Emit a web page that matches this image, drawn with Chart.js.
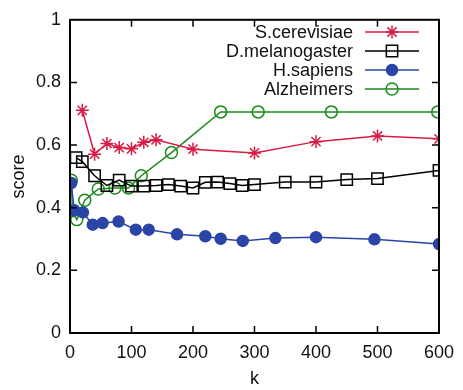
<!DOCTYPE html>
<html>
<head>
<meta charset="utf-8">
<script src="https://cdn.jsdelivr.net/npm/chart.js@4.4.0/dist/chart.umd.min.js"></script>
<style>
  html, body { margin: 0; padding: 0; background: #fff; }
  #wrap { width: 463px; height: 390px; }
</style>
</head>
<body>
<div id="wrap"><canvas id="chart" width="463" height="390"></canvas></div>
<script>
// values
const seriesNames = ['S.cerevisiae', 'D.melanogaster', 'H.sapiens', 'Alzheimers'];

const scerK = [20, 40, 60, 80, 100, 120, 140, 200, 300, 400, 500, 600];
const scerScore = [0.711, 0.571, 0.605, 0.592, 0.588, 0.609, 0.617, 0.587, 0.575, 0.611, 0.629, 0.620];

const dmelK = [10, 20, 40, 60, 80, 100, 120, 140, 160, 180, 200, 220, 240, 260, 280, 300, 350, 400, 450, 500, 600];
const dmelScore = [0.560, 0.547, 0.502, 0.471, 0.488, 0.469, 0.469, 0.471, 0.474, 0.469, 0.463, 0.481, 0.482, 0.477, 0.471, 0.474, 0.482, 0.482, 0.490, 0.493, 0.519];

const hsapK = [2, 7, 21, 37, 53, 79, 107, 128, 174, 220, 245, 281, 334, 400, 495, 600];
const hsapScore = [0.479, 0.392, 0.385, 0.346, 0.351, 0.356, 0.330, 0.330, 0.315, 0.309, 0.301, 0.294, 0.303, 0.306, 0.299, 0.284];

const alzK = [2, 4, 11, 24, 46, 73, 95, 116, 165, 245, 306, 425, 598];
const alzScore = [0.488, 0.390, 0.362, 0.424, 0.460, 0.463, 0.463, 0.502, 0.576, 0.706, 0.706, 0.706, 0.706];

const xTicks = [0, 100, 200, 300, 400, 500, 600];
const yTicks = [0, 0.2, 0.4, 0.6, 0.8, 1];

const FONT = 'Liberation Sans, Arial, sans-serif';

const toPts = (xs, ys) => xs.map((x, i) => ({ x: x, y: ys[i] }));

function series(label, xs, ys, color, style, radius, filled) {
    return {
        label: label,
        data: toPts(xs, ys),
        showLine: true,
        borderColor: color,
        backgroundColor: filled ? color : 'rgba(0,0,0,0)',
        borderWidth: 1.5,
        pointStyle: style,
        pointRadius: radius,
        pointHoverRadius: radius,
        pointBorderWidth: 1.5,
        pointBorderColor: color,
        pointBackgroundColor: filled ? color : 'rgba(0,0,0,0)'
    };
}

// inward ticks on all four sides + full frame
const frameTicks = {
    id: 'frameTicks',
    afterDatasetsDraw(chart) {
        const { ctx, chartArea: a, scales } = chart;
        const len = 7;
        ctx.save();
        ctx.strokeStyle = '#000';
        ctx.lineWidth = 1.5;
        ctx.beginPath();
        xTicks.forEach(v => {
            const px = scales.x.getPixelForValue(v);
            if (v === 0 || v === 600) return;
            ctx.moveTo(px, a.bottom); ctx.lineTo(px, a.bottom - len);
            ctx.moveTo(px, a.top); ctx.lineTo(px, a.top + len);
        });
        yTicks.forEach(v => {
            const py = scales.y.getPixelForValue(v);
            if (v === 0 || v === 1) return;
            ctx.moveTo(a.left, py); ctx.lineTo(a.left + len, py);
            ctx.moveTo(a.right, py); ctx.lineTo(a.right - len, py);
        });
        ctx.stroke();
        ctx.lineWidth = 2;
        ctx.strokeRect(a.left, a.top, a.right - a.left, a.bottom - a.top);
        ctx.restore();
    }
};

// gnuplot-like key: text on the left, line sample on the right
const keyBox = {
    id: 'keyBox',
    afterDatasetsDraw(chart) {
        const { ctx } = chart;
        const textRight = 353, lineL = 365, lineR = 419, top = 32, step = 19;
        ctx.save();
        ctx.font = '18px ' + FONT;
        ctx.textAlign = 'right';
        ctx.textBaseline = 'middle';
        chart.data.datasets.forEach((ds, i) => {
            const y = top + step * i;
            ctx.fillStyle = '#111';
            ctx.fillText(ds.label, textRight, y + 1);
            ctx.strokeStyle = ds.borderColor;
            ctx.lineWidth = ds.borderWidth;
            ctx.beginPath();
            ctx.moveTo(lineL, y); ctx.lineTo(lineR, y);
            ctx.stroke();
            ctx.fillStyle = ds.pointBackgroundColor;
            ctx.strokeStyle = ds.pointBorderColor;
            ctx.lineWidth = ds.pointBorderWidth;
            Chart.helpers.drawPoint(ctx, {
                pointStyle: ds.pointStyle,
                radius: ds.pointRadius,
                rotation: 0,
                borderWidth: ds.pointBorderWidth
            }, (lineL + lineR) / 2, y);
        });
        ctx.restore();
    }
};

new Chart(document.getElementById('chart').getContext('2d'), {
    type: 'scatter',
    data: {
        datasets: [
            series(seriesNames[0], scerK, scerScore, '#d81b45', 'star', 6.5, false),
            series(seriesNames[1], dmelK, dmelScore, '#000000', 'rect', 8, false),
            series(seriesNames[2], hsapK, hsapScore, '#2b45a6', 'circle', 5.5, true),
            series(seriesNames[3], alzK, alzScore, '#1a8a1a', 'circle', 6, false)
        ]
    },
    options: {
        responsive: false,
        animation: false,
        layout: { padding: { top: 14, right: 22, left: 0, bottom: 0 } },
        plugins: {
            legend: { display: false },
            tooltip: { enabled: false }
        },
        scales: {
            x: {
                type: 'linear',
                min: 0,
                max: 600,
                afterBuildTicks: s => { s.ticks = xTicks.map(v => ({ value: v })); },
                afterFit: s => { s.height = 57; },
                grid: { display: false, drawTicks: false },
                border: { display: false },
                ticks: {
                    color: '#111',
                    padding: 9,
                    maxRotation: 0,
                    font: { family: FONT, size: 18 }
                },
                title: {
                    display: true,
                    text: 'k',
                    color: '#111',
                    padding: { top: 2, bottom: 0 },
                    font: { family: FONT, size: 18 }
                }
            },
            y: {
                type: 'linear',
                min: 0,
                max: 1,
                afterBuildTicks: s => { s.ticks = yTicks.map(v => ({ value: v })); },
                afterFit: s => { s.width = 70; },
                grid: { display: false, drawTicks: false },
                border: { display: false },
                ticks: {
                    color: '#111',
                    padding: 9,
                    font: { family: FONT, size: 18 },
                    callback: v => String(Math.round(v * 10) / 10)
                },
                title: {
                    display: true,
                    text: 'score',
                    color: '#111',
                    padding: { top: 8, bottom: 0 },
                    font: { family: FONT, size: 18 }
                }
            }
        }
    },
    plugins: [frameTicks, keyBox]
});
</script>
</body>
</html>
